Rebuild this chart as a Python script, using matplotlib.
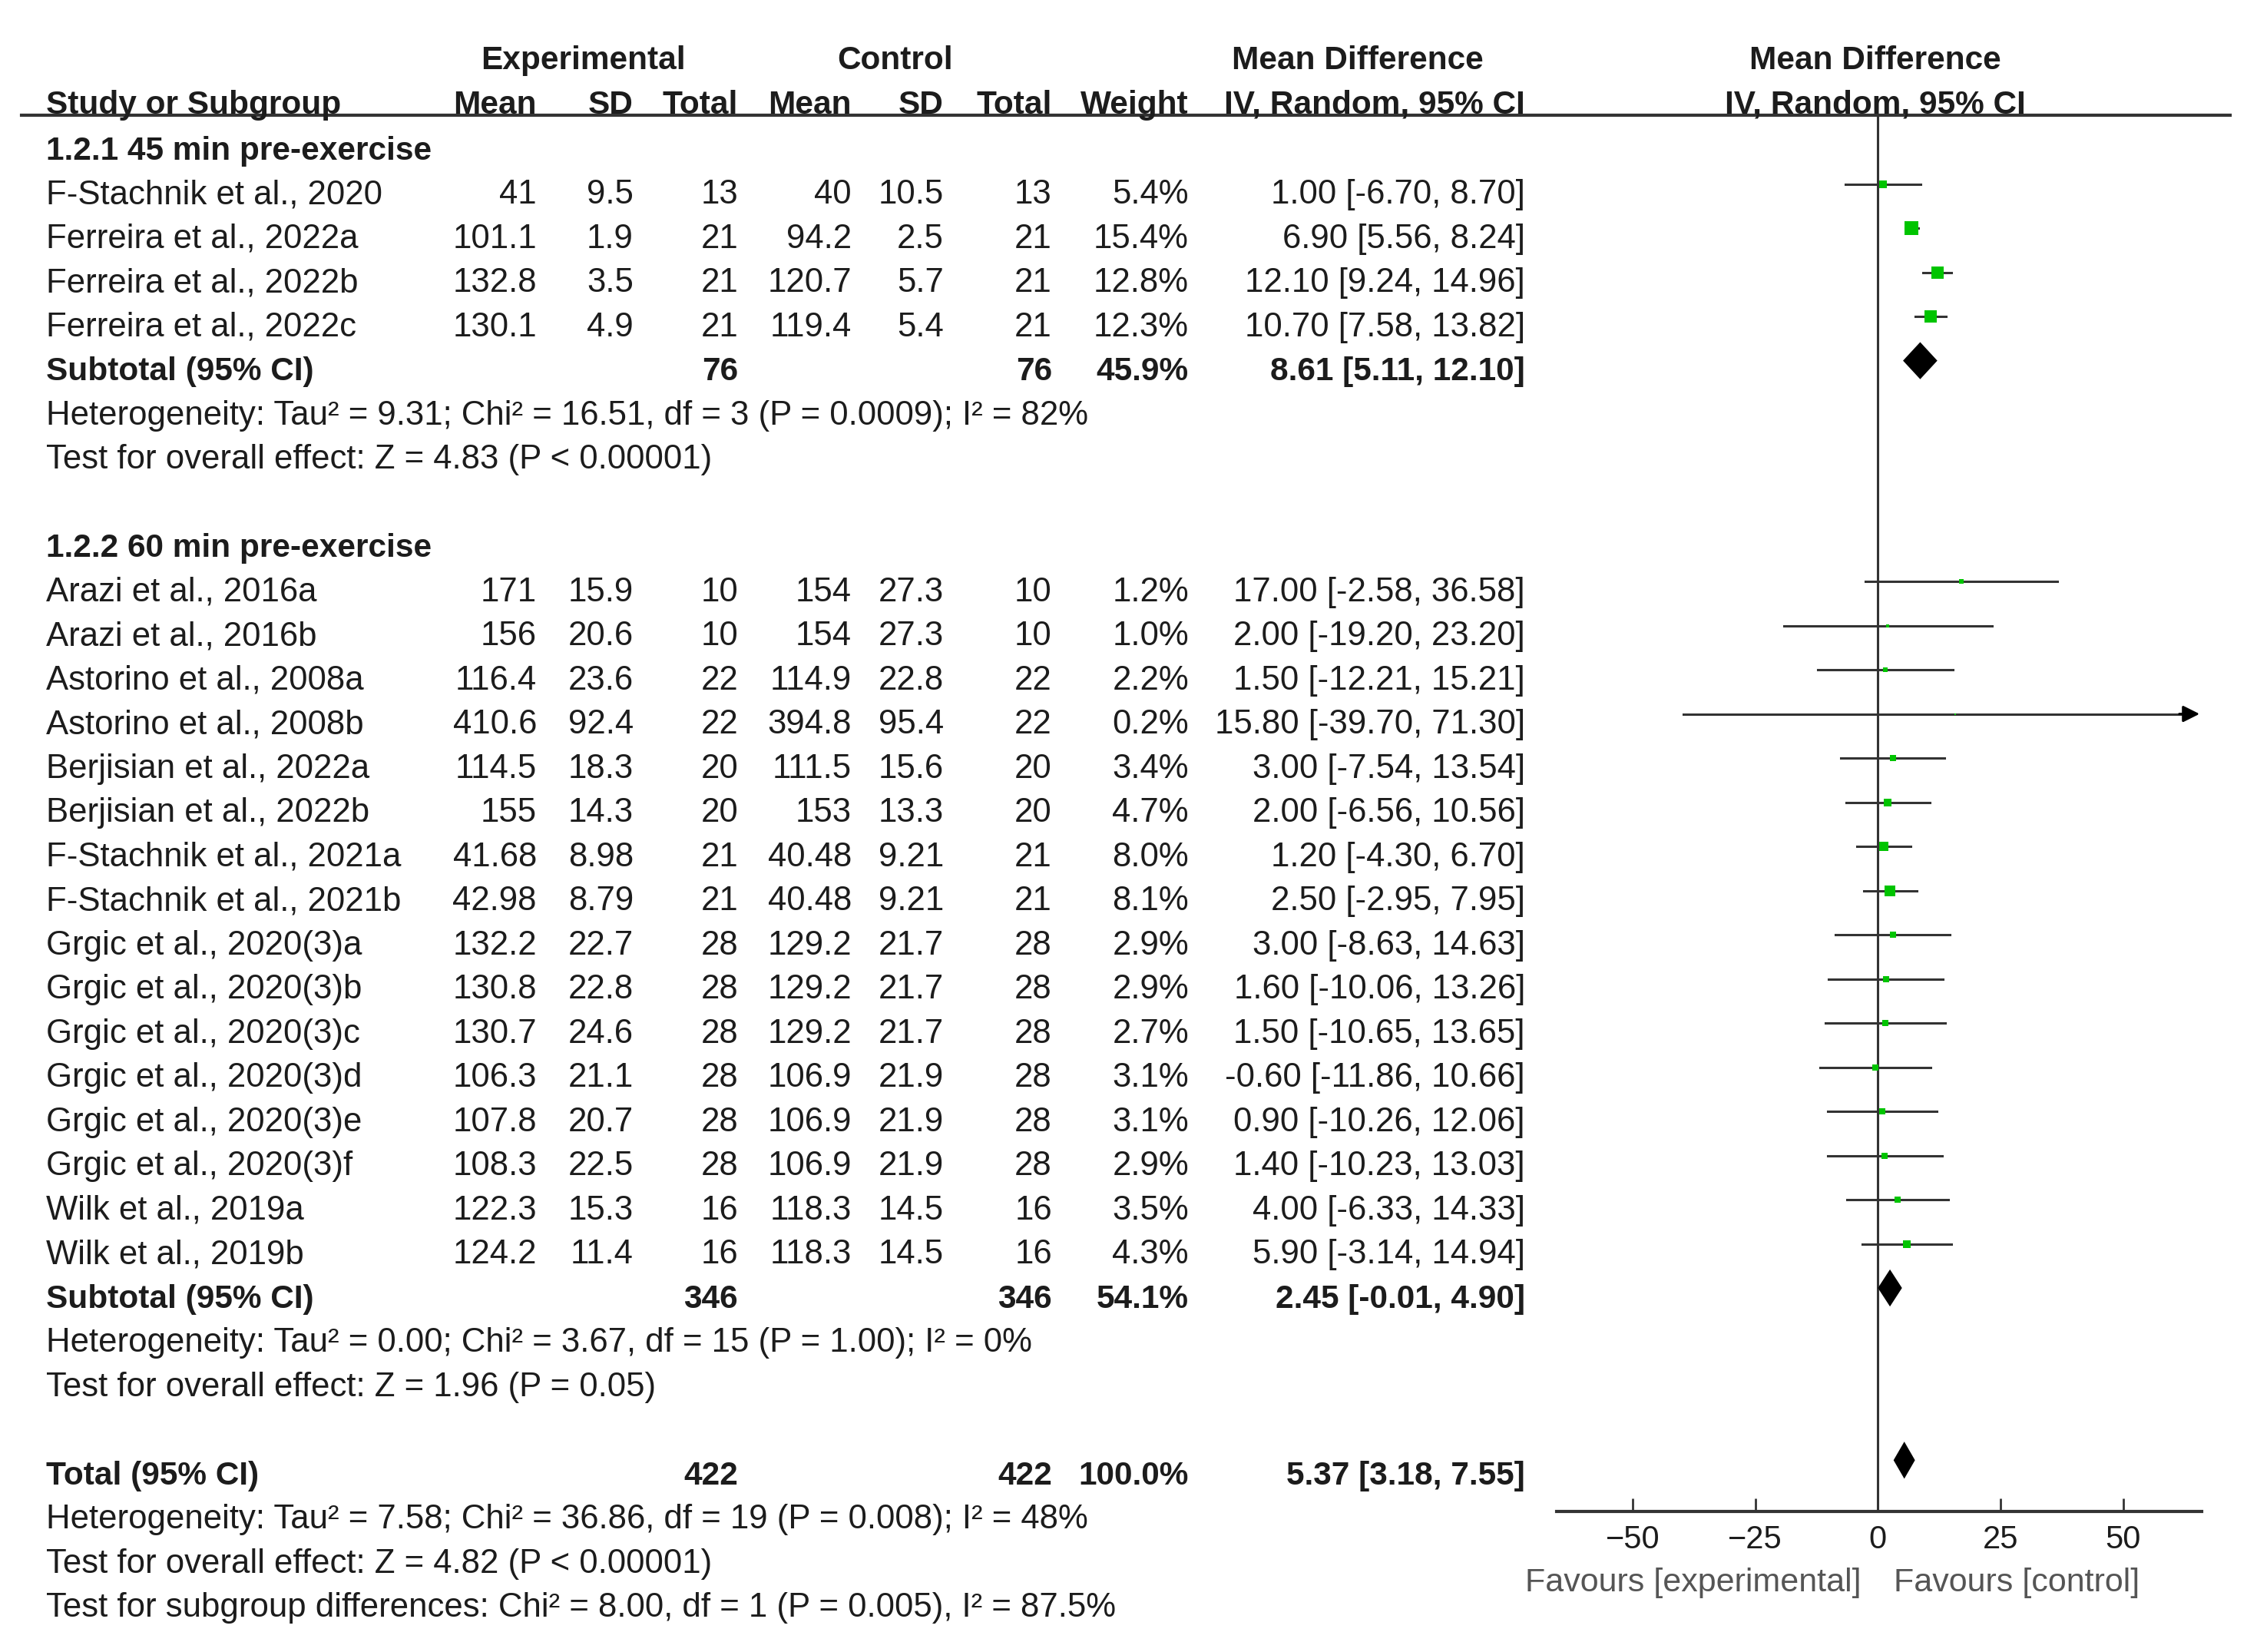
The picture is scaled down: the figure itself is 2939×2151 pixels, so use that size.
import matplotlib
matplotlib.use("Agg")
import matplotlib.pyplot as plt
from matplotlib import transforms
from matplotlib.lines import Line2D

plt.rcParams["font.family"] = ["Liberation Sans", "DejaVu Sans"]

# ---- data: 1.2.1 45 min pre-exercise ----
g1_title = "1.2.1 45 min pre-exercise"
g1_names = ["F-Stachnik et al., 2020", "Ferreira et al., 2022a",
            "Ferreira et al., 2022b", "Ferreira et al., 2022c"]
g1_exp_mean = ["41", "101.1", "132.8", "130.1"]
g1_exp_sd = ["9.5", "1.9", "3.5", "4.9"]
g1_exp_n = [13, 21, 21, 21]
g1_ctl_mean = ["40", "94.2", "120.7", "119.4"]
g1_ctl_sd = ["10.5", "2.5", "5.7", "5.4"]
g1_ctl_n = [13, 21, 21, 21]
g1_weight = [5.4, 15.4, 12.8, 12.3]
g1_md = [1.00, 6.90, 12.10, 10.70]
g1_lo = [-6.70, 5.56, 9.24, 7.58]
g1_hi = [8.70, 8.24, 14.96, 13.82]
g1_sub = (76, 76, 45.9, 8.61, 5.11, 12.10)
g1_het = "Heterogeneity: Tau\u00b2 = 9.31; Chi\u00b2 = 16.51, df = 3 (P = 0.0009); I\u00b2 = 82%"
g1_test = "Test for overall effect: Z = 4.83 (P < 0.00001)"

# ---- data: 1.2.2 60 min pre-exercise ----
g2_title = "1.2.2 60 min pre-exercise"
g2_names = ["Arazi et al., 2016a", "Arazi et al., 2016b", "Astorino et al., 2008a",
            "Astorino et al., 2008b", "Berjisian et al., 2022a", "Berjisian et al., 2022b",
            "F-Stachnik et al., 2021a", "F-Stachnik et al., 2021b", "Grgic et al., 2020(3)a",
            "Grgic et al., 2020(3)b", "Grgic et al., 2020(3)c", "Grgic et al., 2020(3)d",
            "Grgic et al., 2020(3)e", "Grgic et al., 2020(3)f", "Wilk et al., 2019a",
            "Wilk et al., 2019b"]
g2_exp_mean = ["171", "156", "116.4", "410.6", "114.5", "155", "41.68", "42.98",
               "132.2", "130.8", "130.7", "106.3", "107.8", "108.3", "122.3", "124.2"]
g2_exp_sd = ["15.9", "20.6", "23.6", "92.4", "18.3", "14.3", "8.98", "8.79",
             "22.7", "22.8", "24.6", "21.1", "20.7", "22.5", "15.3", "11.4"]
g2_exp_n = [10, 10, 22, 22, 20, 20, 21, 21, 28, 28, 28, 28, 28, 28, 16, 16]
g2_ctl_mean = ["154", "154", "114.9", "394.8", "111.5", "153", "40.48", "40.48",
               "129.2", "129.2", "129.2", "106.9", "106.9", "106.9", "118.3", "118.3"]
g2_ctl_sd = ["27.3", "27.3", "22.8", "95.4", "15.6", "13.3", "9.21", "9.21",
             "21.7", "21.7", "21.7", "21.9", "21.9", "21.9", "14.5", "14.5"]
g2_ctl_n = [10, 10, 22, 22, 20, 20, 21, 21, 28, 28, 28, 28, 28, 28, 16, 16]
g2_weight = [1.2, 1.0, 2.2, 0.2, 3.4, 4.7, 8.0, 8.1, 2.9, 2.9, 2.7, 3.1, 3.1, 2.9, 3.5, 4.3]
g2_md = [17.00, 2.00, 1.50, 15.80, 3.00, 2.00, 1.20, 2.50, 3.00, 1.60, 1.50, -0.60,
         0.90, 1.40, 4.00, 5.90]
g2_lo = [-2.58, -19.20, -12.21, -39.70, -7.54, -6.56, -4.30, -2.95, -8.63, -10.06,
         -10.65, -11.86, -10.26, -10.23, -6.33, -3.14]
g2_hi = [36.58, 23.20, 15.21, 71.30, 13.54, 10.56, 6.70, 7.95, 14.63, 13.26, 13.65,
         10.66, 12.06, 13.03, 14.33, 14.94]
g2_sub = (346, 346, 54.1, 2.45, -0.01, 4.90)
g2_het = "Heterogeneity: Tau\u00b2 = 0.00; Chi\u00b2 = 3.67, df = 15 (P = 1.00); I\u00b2 = 0%"
g2_test = "Test for overall effect: Z = 1.96 (P = 0.05)"

# ---- overall ----
total = (422, 422, 100.0, 5.37, 3.18, 7.55)
total_het = "Heterogeneity: Tau\u00b2 = 7.58; Chi\u00b2 = 36.86, df = 19 (P = 0.008); I\u00b2 = 48%"
total_test = "Test for overall effect: Z = 4.82 (P < 0.00001)"
total_subgroup = "Test for subgroup differences: Chi\u00b2 = 8.00, df = 1 (P = 0.005), I\u00b2 = 87.5%"

x_ticks = [-50, -25, 0, 25, 50]
x_lim = (-65.5, 66.0)

TXT = "#1c1c1c"
GREEN = "#00c400"
LINE = "#333333"
FS = 31.5
FS_BOLD = 30.5

fig = plt.figure(figsize=(29.39, 21.51), dpi=100, facecolor="white")
ax = fig.add_axes([0.6897, 0.0851, 0.2858, 0.8452])
ax.set_xlim(*x_lim)
ax.set_ylim(29.86, -1.76)
for side in ("top", "left", "right"):
    ax.spines[side].set_visible(False)
ax.spines["bottom"].set_linewidth(3)
ax.spines["bottom"].set_color(LINE)
ax.set_yticks([])
ax.set_xticks(x_ticks)
ax.set_xticklabels(["\u221250", "\u221225", "0", "25", "50"])
ax.tick_params(axis="x", direction="in", length=12, width=2, color=LINE,
               labelsize=30, labelcolor=TXT, pad=12)
ax.patch.set_alpha(0)
ax.axvline(0, color=LINE, lw=2.2, zorder=1)

tr = transforms.blended_transform_factory(fig.transFigure, ax.transData)

COL = {"exp_mean": 0.2378, "exp_sd": 0.2807, "exp_n": 0.3270,
       "ctl_mean": 0.3773, "ctl_sd": 0.4182, "ctl_n": 0.4661,
       "weight": 0.5267, "ci": 0.6757}
NAME_X = 0.0204
BASE = 0.25  # baseline offset from text centre, in rows
MARK = -0.2  # marks sit slightly above text centre


def put(x, r, s, ha="right", bold=False, color=TXT):
    fig.text(x, r + BASE, s, transform=tr, ha=ha, va="baseline",
             fontsize=FS_BOLD if bold else FS,
             fontweight="bold" if bold else "normal", color=color)


def ci_text(md, lo, hi):
    return f"{md:.2f} [{lo:.2f}, {hi:.2f}]"


def diamond(r, md, lo, hi):
    h = 0.42
    y = r + MARK
    ax.fill([lo, md, hi, md], [y, y - h, y, y + h], color="black", lw=0, zorder=3)


# header
put(0.2583, -3.06, "Experimental", ha="center", bold=True)
put(0.3967, -3.06, "Control", ha="center", bold=True)
put(0.5458, -3.06, "Mean Difference", ha="left", bold=True)
put(0.8310, -3.06, "Mean Difference", ha="center", bold=True)
put(NAME_X, -2.05, "Study or Subgroup", ha="left", bold=True)
for key, lab in [("exp_mean", "Mean"), ("exp_sd", "SD"), ("exp_n", "Total"),
                 ("ctl_mean", "Mean"), ("ctl_sd", "SD"), ("ctl_n", "Total"),
                 ("weight", "Weight")]:
    put(COL[key], -2.05, lab, bold=True)
put(COL["ci"], -2.05, "IV, Random, 95% CI", ha="right", bold=True)
put(0.8310, -2.05, "IV, Random, 95% CI", ha="center", bold=True)
fig.add_artist(Line2D([0.0095, 0.988], [0.9303, 0.9303], transform=fig.transFigure,
                      color=LINE, lw=3))


def group(start, title, names, em, esd, en, cm, csd, cn, w, md, lo, hi, sub, het, test):
    put(NAME_X, start, title, ha="left", bold=True)
    for i in range(len(names)):
        r = start + 1 + i
        put(NAME_X, r, names[i], ha="left")
        put(COL["exp_mean"], r, em[i])
        put(COL["exp_sd"], r, esd[i])
        put(COL["exp_n"], r, str(en[i]))
        put(COL["ctl_mean"], r, cm[i])
        put(COL["ctl_sd"], r, csd[i])
        put(COL["ctl_n"], r, str(cn[i]))
        put(COL["weight"], r, f"{w[i]:.1f}%")
        put(COL["ci"], r, ci_text(md[i], lo[i], hi[i]))
        y = r + MARK
        if hi[i] > x_lim[1]:
            ax.plot([lo[i], x_lim[1] - 3], [y, y], color=LINE, lw=2.2, zorder=2)
            ax.annotate("", xy=(x_lim[1], y), xytext=(x_lim[1] - 5, y),
                        arrowprops=dict(arrowstyle="-|>,head_length=1.3,head_width=0.65",
                                        color="black", lw=2.2))
        else:
            ax.plot([lo[i], hi[i]], [y, y], color=LINE, lw=2.2, zorder=2)
        ax.plot(md[i], y, marker="s", ms=3.3 * w[i] ** 0.5, color=GREEN, mew=0, zorder=4)
    r = start + 1 + len(names)
    put(NAME_X, r, "Subtotal (95% CI)", ha="left", bold=True)
    put(COL["exp_n"], r, str(sub[0]), bold=True)
    put(COL["ctl_n"], r, str(sub[1]), bold=True)
    put(COL["weight"], r, f"{sub[2]:.1f}%", bold=True)
    put(COL["ci"], r, ci_text(*sub[3:]), bold=True)
    diamond(r, *sub[3:])
    put(NAME_X, r + 1, het, ha="left")
    put(NAME_X, r + 2, test, ha="left")


group(-1, g1_title, g1_names, g1_exp_mean, g1_exp_sd, g1_exp_n, g1_ctl_mean, g1_ctl_sd,
      g1_ctl_n, g1_weight, g1_md, g1_lo, g1_hi, g1_sub, g1_het, g1_test)
group(8, g2_title, g2_names, g2_exp_mean, g2_exp_sd, g2_exp_n, g2_ctl_mean, g2_ctl_sd,
      g2_ctl_n, g2_weight, g2_md, g2_lo, g2_hi, g2_sub, g2_het, g2_test)

r = 29
put(NAME_X, r, "Total (95% CI)", ha="left", bold=True)
put(COL["exp_n"], r, str(total[0]), bold=True)
put(COL["ctl_n"], r, str(total[1]), bold=True)
put(COL["weight"], r, f"{total[2]:.1f}%", bold=True)
put(COL["ci"], r, ci_text(*total[3:]), bold=True)
diamond(r - 0.1, *total[3:])
put(NAME_X, 30, total_het, ha="left")
put(NAME_X, 31, total_test, ha="left")
put(NAME_X, 32, total_subgroup, ha="left")

fav_tr = transforms.blended_transform_factory(ax.transData, fig.transFigure)
fig.text(-3.4, 0.0418, "Favours [experimental]", transform=fav_tr, ha="right",
         va="center", fontsize=31, color="#555555")
fig.text(3.3, 0.0418, "Favours [control]", transform=fav_tr, ha="left",
         va="center", fontsize=31, color="#555555")

fig.savefig("out.png", dpi=100, facecolor="white")
